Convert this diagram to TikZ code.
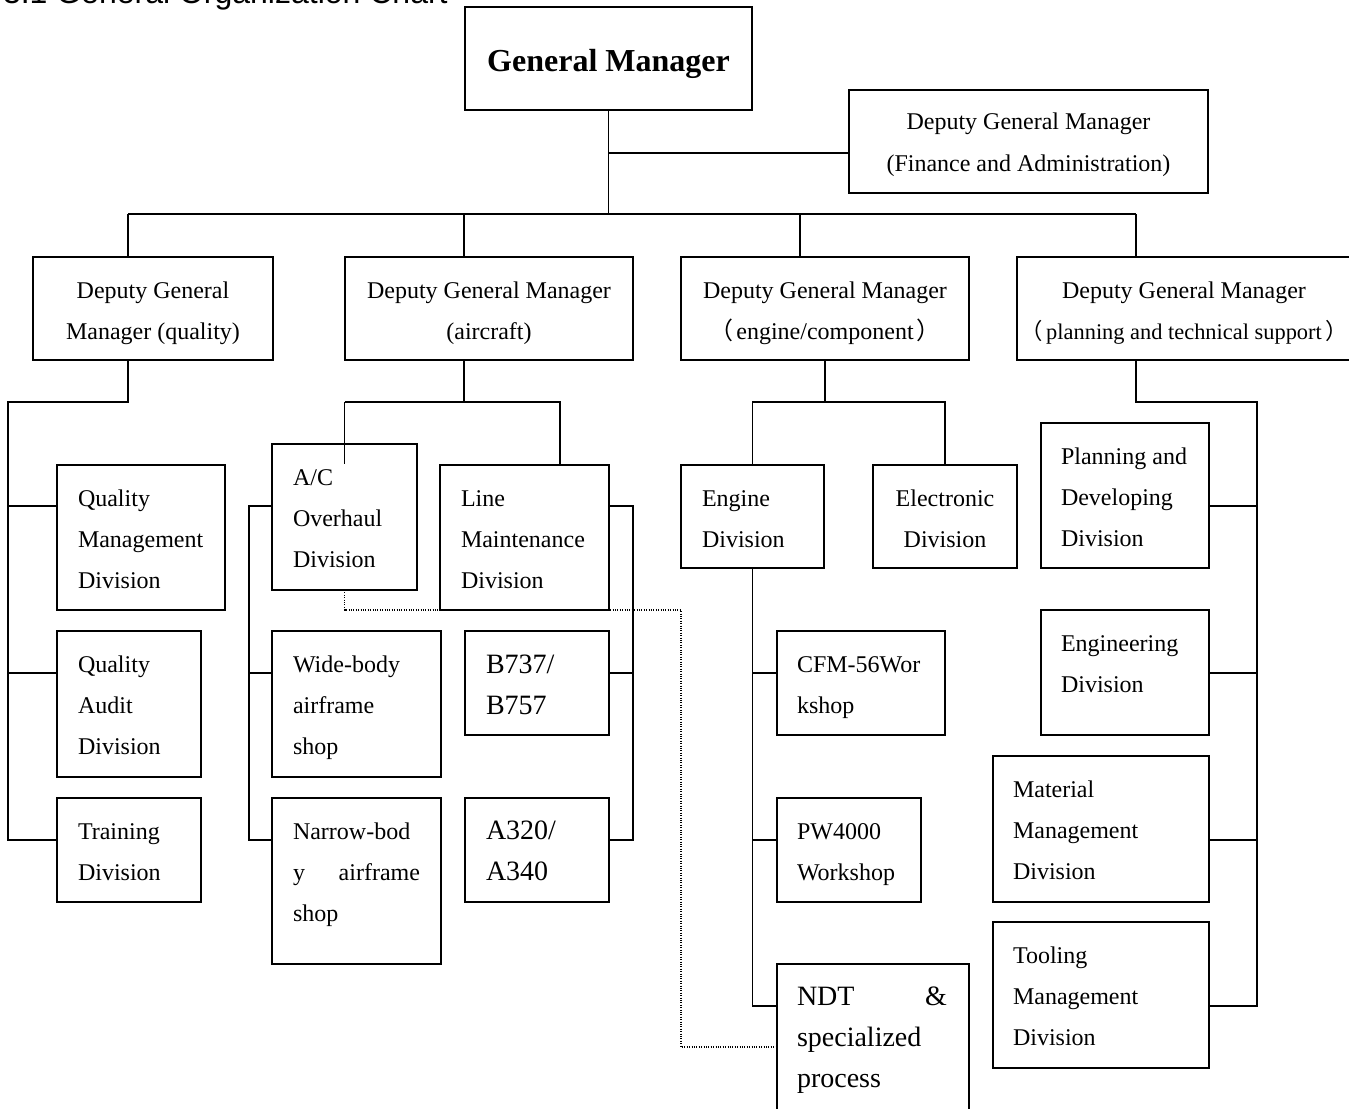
\documentclass[tikz,border=0pt]{standalone}
\usepackage{fontspec}
\setmainfont{Liberation Serif}
\newfontfamily\cjk{Noto Sans CJK SC}
\newfontfamily\titlefont{Liberation Sans}
\usetikzlibrary{calc}
\newcommand\normsize{\fontsize{18}{31}\selectfont}
\newcommand\bigsize{\fontsize{21}{31}\selectfont}
\newcommand\smallsize{\fontsize{16.8}{31}\selectfont}
\tikzset{
  bx/.style={draw, rectangle, inner sep=0pt, outer sep=0pt, line width=1.3pt},
  tx/.style={inner sep=0pt, outer sep=0pt},
  ln/.style={line width=1.3pt},
  dotln/.style={line width=0.8pt, densely dotted}
}
% name, x1, y1, x2, y2  (pixels)
\newcommand\mkbox[5]{\node[bx, minimum width={(#4-#2)*0.75pt}, minimum height={(#5-#3)*0.75pt}] (#1) at ({(#2+#4)/2},{(#3+#5)/2}) {};}
% name, x, baseline y, width px, size, text (left)
\newcommand\ltext[6]{\node[tx, anchor=base west] (#1) at (#2,#3) {\parbox[t]{\dimexpr #4pt*3/4\relax}{#5#6}};}
% name, center x, baseline y, width px, text (centered)
\newcommand\ctext[5]{\node[tx, anchor=base] (#1) at (#2,#3) {\parbox[t]{\dimexpr #4pt*3/4\relax}{\centering\normsize #5}};}
\begin{document}
\begin{tikzpicture}[x=0.75pt, y=-0.75pt]
\clip (0,0) rectangle (1349,1109);
\fill[white] (0,0) rectangle (1349,1109);
% title (cut at top, as in the reference)
\node[tx, anchor=base west] (title) at (3,4) {\titlefont\fontsize{24}{28}\selectfont 3.1 General Organization Chart};
% boxes
\mkbox{gm}{465}{7}{752}{110}
\mkbox{dfa}{849}{90}{1208}{193}
\mkbox{dq}{33}{257}{273}{360}
\mkbox{da}{345}{257}{633}{360}
\mkbox{de}{681}{257}{969}{360}
\mkbox{dp}{1017}{257}{1370}{360}
\mkbox{qm}{57}{465}{225}{610}
\mkbox{qa}{57}{631}{201}{777}
\mkbox{tr}{57}{798}{201}{902}
\mkbox{ac}{272}{444}{417}{590}
\mkbox{lm}{440}{465}{609}{610}
\mkbox{wb}{272}{631}{441}{777}
\mkbox{nb}{272}{798}{441}{964}
\mkbox{bb}{465}{631}{609}{735}
\mkbox{aa}{465}{798}{609}{902}
\mkbox{ed}{681}{465}{824}{568}
\mkbox{el}{873}{465}{1017}{568}
\mkbox{cfm}{777}{631}{945}{735}
\mkbox{pw}{777}{798}{921}{902}
\mkbox{ndt}{777}{964}{969}{1130}
\mkbox{pd}{1041}{423}{1209}{568}
\mkbox{en}{1041}{610}{1209}{735}
\mkbox{mm}{993}{756}{1209}{902}
\mkbox{tm}{993}{922}{1209}{1068}
% texts
\node[tx, anchor=base] (gm-t) at (608.5,72) {\fontsize{24}{28}\selectfont\bfseries General Manager};
\ctext{dfa-t}{1028.5}{130}{359}{Deputy General Manager\\(Finance and Administration)}
\ctext{dq-t}{153}{298}{240}{Deputy General\\Manager (quality)}
\ctext{da-t}{489}{298}{288}{Deputy General Manager\\(aircraft)}
\ctext{de-t}{825}{298}{288}{Deputy General Manager\\{\cjk （}\hspace{0.1em}engine/component\hspace{0.1em}{\cjk ）}}
\ctext{dp-t}{1184}{298}{340}{Deputy General Manager\\{\smallsize{\cjk （}\hspace{0.15em}planning and technical support\hspace{0.15em}{\cjk ）}}}
\ctext{el-t}{945}{506}{144}{Electronic\\Division}
\ltext{qm-t}{78}{506}{126}{\normsize}{Quality\\Management\\Division}
\ltext{qa-t}{78}{672}{110}{\normsize}{Quality\\Audit\\Division}
\ltext{tr-t}{78}{839}{110}{\normsize}{Training\\Division}
\ltext{ac-t}{293}{485}{110}{\normsize}{A/C\\Overhaul\\Division}
\ltext{lm-t}{461}{506}{128}{\normsize}{Line\\Maintenance\\Division}
\ltext{wb-t}{293}{672}{127}{\normsize}{Wide-body\\airframe\\shop}
\ltext{nb-t}{293}{839}{127}{\normsize}{Narrow-bod\\y\hfill airframe\\shop}
\ltext{bb-t}{486}{673}{110}{\bigsize}{B737/\\B757}
\ltext{aa-t}{486}{839}{110}{\bigsize}{A320/\\A340}
\ltext{ed-t}{702}{506}{110}{\normsize}{Engine\\Division}
\ltext{cfm-t}{797}{672}{128}{\normsize}{CFM-56Wor\\kshop}
\ltext{pw-t}{797}{839}{110}{\normsize}{PW4000\\Workshop}
\ltext{ndt-t}{797}{1005}{150}{\bigsize}{NDT\hfill\&\\specialized\\process}
\ltext{pd-t}{1061}{464}{128}{\normsize}{Planning and\\Developing\\Division}
\ltext{en-t}{1061}{651}{128}{\normsize}{Engineering\\Division}
\ltext{mm-t}{1013}{797}{176}{\normsize}{Material\\Management\\Division}
\ltext{tm-t}{1013}{963}{176}{\normsize}{Tooling\\Management\\Division}
% reference levels
\coordinate (y402) at (0,402);
\coordinate (y506) at (0,506);
\coordinate (y673) at (0,673);
\coordinate (y840) at (0,840);
\coordinate (y1006) at (0,1006);
\coordinate (y1047) at (0,1047);
% top level
\coordinate (b1) at (128,214);
\coordinate (b2) at (464,214);
\coordinate (b3) at (800,214);
\coordinate (b4) at (1136,214);
\coordinate (fa) at (609,153);
\draw[ln] (gm.south) -- (gm.south |- b1);
\draw[ln] (fa) -- (fa -| dfa.west);
\draw[ln] (b1) -- (b4);
\draw[ln] (b1) -- (b1 |- dq.north);
\draw[ln] (b2) -- (b2 |- da.north);
\draw[ln] (b3) -- (b3 |- de.north);
\draw[ln] (b4) -- (b4 |- dp.north);
% quality branch
\coordinate (q1) at (128,402);
\coordinate (qv) at (8,402);
\draw[ln] (q1 |- dq.south) -- (q1) -- (qv) -- (qv |- y840) -- (tr.west |- y840);
\draw[ln] (qv |- y506) -- (qm.west |- y506);
\draw[ln] (qv |- y673) -- (qa.west |- y673);
% aircraft branch
\coordinate (a1) at (464,402);
\coordinate (a2) at (560,402);
\draw[ln] (a1 |- da.south) -- (a1);
\draw[ln] (ac.north |- a1) -- (a2) -- (a2 |- lm.north);
\draw[ln] (ac.north |- a1) -- ++(0,62);
\coordinate (av) at (249,506);
\draw[ln] (ac.west |- y506) -- (av) -- (av |- y840) -- (nb.west |- y840);
\draw[ln] (av |- y673) -- (wb.west |- y673);
\coordinate (lv) at (633,506);
\draw[ln] (lm.east |- y506) -- (lv) -- (lv |- y840) -- (aa.east |- y840);
\draw[ln] (lv |- y673) -- (bb.east |- y673);
% dotted link
\coordinate (dx) at (681,610);
\draw[dotln] (ac.south) -- (ac.south |- dx) -- (dx) -- (dx |- y1047) -- (ndt.west |- y1047);
% engine branch
\draw[ln] (de.south) -- (de.south |- y402);
\draw[ln] (ed.north) -- (ed.north |- y402) -- (el.north |- y402) -- (el.north);
\draw[ln] (ed.south) -- (ed.south |- y1006) -- (ndt.west |- y1006);
\draw[ln] (ed.south |- y673) -- (cfm.west |- y673);
\draw[ln] (ed.south |- y840) -- (pw.west |- y840);
% planning branch
\coordinate (p1) at (1136,402);
\coordinate (pv) at (1257,402);
\draw[ln] (p1 |- dp.south) -- (p1) -- (pv) -- (pv |- y1006) -- (tm.east |- y1006);
\draw[ln] (pv |- y506) -- (pd.east |- y506);
\draw[ln] (pv |- y673) -- (en.east |- y673);
\draw[ln] (pv |- y840) -- (mm.east |- y840);
\end{tikzpicture}
\end{document}
